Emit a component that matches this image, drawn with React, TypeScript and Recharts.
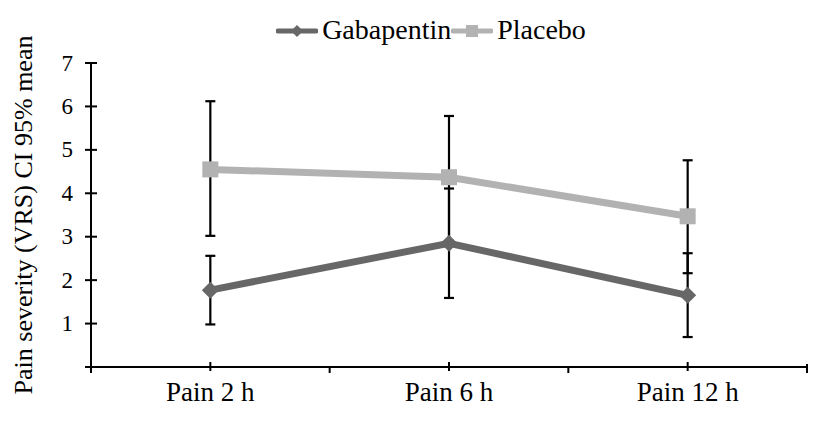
import React from 'react';
import { LineChart, Line, XAxis, YAxis, ErrorBar } from 'recharts';

const categories = ['Pain 2 h', 'Pain 6 h', 'Pain 12 h'];
const gabapentinMean = [1.77, 2.85, 1.65];
const gabapentinErr = [[0.79, 0.79], [1.26, 1.26], [0.96, 0.97]];
const placeboMean = [4.55, 4.37, 3.47];
const placeboErr = [[1.53, 1.57], [1.52, 1.41], [1.31, 1.29]];
const yTicks = [0, 1, 2, 3, 4, 5, 6, 7];

const W = 828;
const H = 432;
const margin = { top: 63, right: 21, bottom: 25, left: 31 };
const Y_AXIS_W = 60;
const X_AXIS_H = 40;
const AXIS_X = margin.left + Y_AXIS_W;
const AXIS_Y = H - margin.bottom - X_AXIS_H;
const PLOT_W = W - margin.right - AXIS_X;

const FONT = '"Liberation Serif", "DejaVu Serif", serif';
const GABA = '#676767';
const PLAC = '#b2b2b2';

const data = categories.map((c, i) => ({
  name: c,
  gabapentin: gabapentinMean[i],
  gabapentinErr: gabapentinErr[i],
  placebo: placeboMean[i],
  placeboErr: placeboErr[i],
}));

const YTick = (props: any) => {
  const { y, payload } = props;
  return (
    <g>
      <line x1={AXIS_X - 6} x2={AXIS_X + 6} y1={y} y2={y} stroke="#000" strokeWidth={2} />
      {payload.value !== 0 && (
        <text x={AXIS_X - 18} y={y} textAnchor="end" dominantBaseline="central" fontFamily={FONT} fontSize={23} fill="#000">
          {payload.value}
        </text>
      )}
    </g>
  );
};

const XTick = (props: any) => {
  const { x, payload, index } = props;
  const half = PLOT_W / categories.length / 2;
  return (
    <g>
      <line x1={x} x2={x} y1={AXIS_Y - 5} y2={AXIS_Y + 4} stroke="#000" strokeWidth={2} />
      <line x1={x - half} x2={x - half} y1={AXIS_Y - (index === 0 ? 3 : 0)} y2={AXIS_Y + 6} stroke="#000" strokeWidth={2} />
      {index === categories.length - 1 && (
        <line x1={x + half} x2={x + half} y1={AXIS_Y - 3} y2={AXIS_Y + 6} stroke="#000" strokeWidth={2} />
      )}
      <text x={x} y={AXIS_Y + 34} textAnchor="middle" fontFamily={FONT} fontSize={27} fill="#000">
        {payload.value}
      </text>
    </g>
  );
};

const diamond = (p: any) => (
  <path
    key={`d-${p.index}`}
    d={`M${p.cx},${p.cy - 8.5}L${p.cx + 8.5},${p.cy}L${p.cx},${p.cy + 8.5}L${p.cx - 8.5},${p.cy}Z`}
    fill={GABA}
  />
);

const square = (p: any) => (
  <rect key={`s-${p.index}`} x={p.cx - 8} y={p.cy - 8} width={16} height={16} fill={PLAC} />
);

const LegendItem = ({ color, label, shape }: { color: string; label: string; shape: 'diamond' | 'square' }) => (
  <div style={{ display: 'flex', alignItems: 'center' }}>
    <svg width={42} height={16}>
      <line x1={2} x2={40} y1={9} y2={9} stroke={color} strokeWidth={5} strokeLinecap="round" />
      {shape === 'diamond' ? (
        <path d="M21,3L27,9L21,15L15,9Z" fill={color} />
      ) : (
        <rect x={15} y={3} width={12} height={12} fill={color} />
      )}
    </svg>
    <span style={{ marginLeft: 4, fontFamily: FONT, fontSize: 28, color: '#000', lineHeight: '30px' }}>{label}</span>
  </div>
);

export default function App() {
  return (
    <div style={{ position: 'absolute', left: 0, top: 0, width: W, height: H, background: '#fff' }}>
      <div
        style={{
          position: 'absolute',
          top: 15,
          left: 0,
          width: 862,
          display: 'flex',
          justifyContent: 'center',
        }}
      >
        <LegendItem color={GABA} label="Gabapentin" shape="diamond" />
        <LegendItem color={PLAC} label="Placebo" shape="square" />
      </div>
      <LineChart width={W} height={H} data={data} margin={margin}>
        <XAxis
          dataKey="name"
          scale="band"
          axisLine={{ stroke: '#000', strokeWidth: 2 }}
          tickLine={false}
          tick={<XTick />}
          height={X_AXIS_H}
          interval={0}
        />
        <YAxis
          domain={[0, 7]}
          ticks={yTicks}
          width={Y_AXIS_W}
          axisLine={{ stroke: '#000', strokeWidth: 2 }}
          tickLine={false}
          tick={<YTick />}
          label={{
            value: 'Pain severity (VRS) CI 95% mean',
            angle: -90,
            position: 'center',
            content: (lp: any) => {
              const vb = lp.viewBox;
              const cx = 23;
              const cy = vb.y + vb.height / 2;
              return (
                <text
                  x={cx}
                  y={cy}
                  transform={`rotate(-90 ${cx} ${cy})`}
                  textAnchor="middle"
                  dominantBaseline="central"
                  fontFamily={FONT}
                  fontSize={26}
                  fill="#000"
                >
                  Pain severity (VRS) CI 95% mean
                </text>
              );
            },
          }}
        />
        <Line
          dataKey="placebo"
          stroke={PLAC}
          strokeWidth={7}
          dot={square}
          activeDot={false}
          isAnimationActive={false}
        >
          <ErrorBar dataKey="placeboErr" stroke="#000" strokeWidth={2.2} width={5} direction="y" isAnimationActive={false} />
        </Line>
        <Line
          dataKey="gabapentin"
          stroke={GABA}
          strokeWidth={7}
          dot={diamond}
          activeDot={false}
          isAnimationActive={false}
        >
          <ErrorBar dataKey="gabapentinErr" stroke="#000" strokeWidth={2.2} width={5} direction="y" isAnimationActive={false} />
        </Line>
      </LineChart>
    </div>
  );
}
